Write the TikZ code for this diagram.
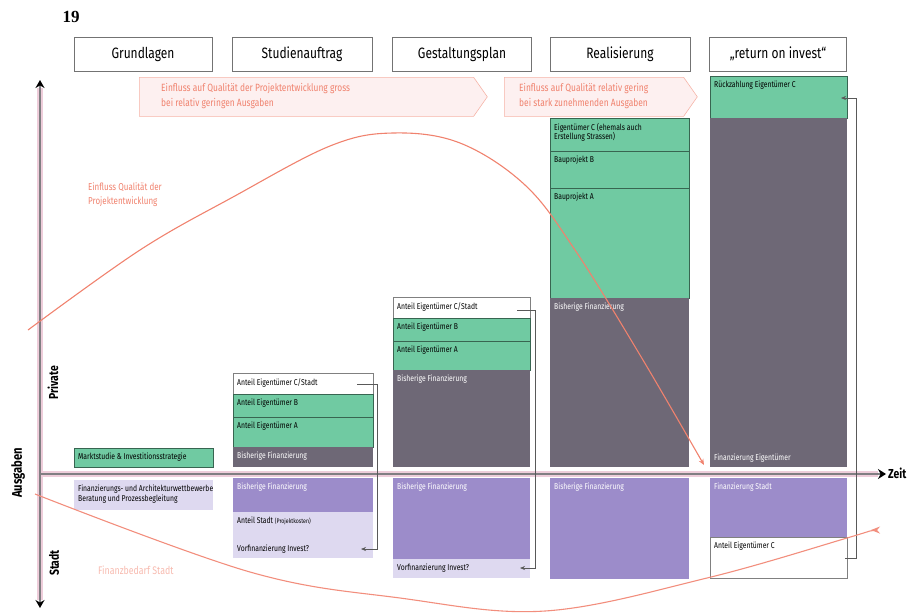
\documentclass[tikz,border=0pt]{standalone}
\usepackage{fontspec}
\newfontfamily\cond{Fira Sans}[FakeStretch=0.8]
\newfontfamily\numfont{Liberation Serif}
\usetikzlibrary{arrows.meta,shapes.symbols}

\definecolor{mint}{RGB}{112,202,162}
\definecolor{slate}{RGB}{110,104,118}
\definecolor{lilac}{RGB}{156,140,202}
\definecolor{palelilac}{RGB}{222,217,240}
\definecolor{salmon}{RGB}{240,130,110}
\definecolor{pinkfill}{RGB}{253,240,240}
\definecolor{axisgray}{RGB}{128,126,130}
\definecolor{axisedge}{RGB}{238,205,218}

% one segment of a column: name, style, x, y, width, height, label style, text
\newcommand\colseg[8]{%
  \node[#2, minimum width=#5, minimum height=#6] (#1) at (#3,#4) {};
  \node[#7] (#1-t) at ([shift={(4,5)}]#1.north west) {#8};}

\begin{document}
\begin{tikzpicture}[x=1pt, y=-1pt,
    head/.style={draw=black!55, fill=white, inner sep=0, minimum height=34,
      font=\cond\fontsize{15}{16}\selectfont},
    seg/.style={anchor=north west, inner sep=0, outer sep=0},
    greenseg/.style={seg, fill=mint, draw=mint!50!black, line width=0.4},
    darkseg/.style={seg, fill=slate},
    lilacseg/.style={seg, fill=lilac},
    paleseg/.style={seg, fill=palelilac},
    whiteseg/.style={seg, fill=white, draw=black!50, line width=0.4},
    lbl/.style={anchor=north west, inner sep=0, align=left,
      font=\cond\fontsize{8.5}{9.5}\selectfont},
    lblw/.style={lbl, text=white},
    banner/.style={signal, signal to=east, signal pointer angle=110,
      draw=salmon!60, fill=pinkfill, line width=0.6, inner sep=0,
      anchor=north west, minimum height=39},
    bantext/.style={anchor=north west, inner sep=0, align=left, text=salmon,
      font=\cond\fontsize{10.5}{15}\selectfont},
    axis/.style={draw=axisgray, line width=2.4},
    axisglow/.style={draw=axisedge, line width=5.5},
    curve/.style={draw=salmon, line width=1.1},
    rail/.style={draw=black!65, line width=0.6},
    axislbl/.style={inner sep=0, font=\cond\bfseries\fontsize{13}{13}\selectfont}]

  \useasboundingbox (0,0) rectangle (908,614);

  % page number
  \node[inner sep=0, font=\numfont\bfseries\fontsize{17}{17}\selectfont] (pageno) at (71,17) {19};

  % phase headers
  \node[head, minimum width=138] (h-grund) at (143,54) {Grundlagen};
  \node[head, minimum width=140] (h-studie) at (302,54) {Studienauftrag};
  \node[head, minimum width=139] (h-gestalt) at (462,54) {Gestaltungsplan};
  \node[head, minimum width=140] (h-real) at (620,54) {Realisierung};
  \node[head, minimum width=137] (h-roi) at (778,54) {„return on invest“};

  % influence banners
  \node[banner, minimum width=348] (ban-gross) at (139,77) {};
  \node[bantext] (ban-gross-t) at ([shift={(22,6)}]ban-gross.north west)
    {Einfluss auf Qualität der Projektentwicklung gross\\bei relativ geringen Ausgaben};
  \node[banner, minimum width=193] (ban-gering) at (504,77) {};
  \node[bantext] (ban-gering-t) at ([shift={(15,6)}]ban-gering.north west)
    {Einfluss auf Qualität relativ gering\\bei stark zunehmenden Ausgaben};

  % column Grundlagen
  \colseg{g-markt}{greenseg}{74}{448}{139}{19}{lbl}{Marktstudie \& Investitionsstrategie}
  \colseg{g-berat}{paleseg}{74}{480}{139}{30}{lbl}{Finanzierungs- und Architekturwettbewerbe\\Beratung und Prozessbegleitung}

  % column Studienauftrag
  \colseg{s-c}{whiteseg}{233}{373}{140}{21}{lbl}{Anteil Eigentümer C/Stadt}
  \colseg{s-b}{greenseg}{233}{394}{140}{23}{lbl}{Anteil Eigentümer B}
  \colseg{s-a}{greenseg}{233}{417}{140}{30}{lbl}{Anteil Eigentümer A}
  \colseg{s-bish}{darkseg}{233}{447}{140}{20}{lblw}{Bisherige Finanzierung}
  \colseg{s-bish2}{lilacseg}{233}{478}{140}{34}{lblw}{Bisherige Finanzierung}
  \colseg{s-stadt}{paleseg}{233}{512}{140}{46}{lbl}{Anteil Stadt {\fontsize{6.5}{7}\selectfont(Projektkosten)}}
  \node[lbl] (s-vor) at ([shift={(4,-13)}]s-stadt.south west) {Vorfinanzierung Invest?};

  % column Gestaltungsplan
  \colseg{p-c}{whiteseg}{393}{297}{137}{21}{lbl}{Anteil Eigentümer C/Stadt}
  \colseg{p-b}{greenseg}{393}{318}{137}{23}{lbl}{Anteil Eigentümer B}
  \colseg{p-a}{greenseg}{393}{341}{137}{29}{lbl}{Anteil Eigentümer A}
  \colseg{p-bish}{darkseg}{393}{370}{137}{97}{lblw}{Bisherige Finanzierung}
  \colseg{p-bish2}{lilacseg}{393}{478}{137}{81}{lblw}{Bisherige Finanzierung}
  \colseg{p-vor}{paleseg}{393}{559}{137}{19}{lbl}{Vorfinanzierung Invest?}

  % column Realisierung
  \colseg{r-c}{greenseg}{550}{118}{139}{33}{lbl}{Eigentümer C (ehemals auch\\Erstellung Strassen)}
  \colseg{r-b}{greenseg}{550}{151}{139}{37}{lbl}{Bauprojekt B}
  \colseg{r-a}{greenseg}{550}{188}{139}{110}{lbl}{Bauprojekt A}
  \colseg{r-bish}{darkseg}{550}{298}{139}{169}{lblw}{Bisherige Finanzierung}
  \colseg{r-bish2}{lilacseg}{550}{478}{139}{101}{lblw}{Bisherige Finanzierung}

  % column return on invest
  \colseg{i-rueck}{greenseg}{710}{76}{137}{42}{lbl}{Rückzahlung Eigentümer C}
  \colseg{i-fin}{darkseg}{710}{118}{137}{349}{lblw}{}
  \node[lblw, anchor=south west] (i-fin-b) at ([shift={(4,-4)}]i-fin.south west) {Finanzierung Eigentümer};
  \colseg{i-stadt}{lilacseg}{710}{478}{137}{59}{lblw}{Finanzierung Stadt}
  \colseg{i-anteil}{whiteseg}{710}{537}{137}{41}{lbl}{Anteil Eigentümer C}

  % axes
  \coordinate (o) at (40,474);
  \coordinate (ytop) at (40,80);
  \coordinate (ybot) at (40,608);
  \coordinate (xend) at (886,474);
  \draw[axisglow] (40,600) -- (40,88);
  \draw[axisglow] (o) -- (878,474);
  \draw[axis, {Stealth[length=8,width=9,black]}-{Stealth[length=8,width=9,black]}] (ybot) -- (ytop);
  \draw[axis, -{Stealth[length=8,width=10,black]}] (o) -- (xend);
  \node[axislbl, anchor=west] (zeit) at (888,473) {Zeit};
  \node[axislbl, rotate=90, font=\cond\bfseries\fontsize{14}{14}\selectfont] (ausgaben) at (18,473) {Ausgaben};
  \node[axislbl, rotate=90] (privat) at (53,383) {Private};
  \node[axislbl, rotate=90] (stadt) at (54,563) {Stadt};

  % transfer brackets
  \coordinate (s-c-end) at (357,384);
  \coordinate (s-vor-end) at (361,549);
  \coordinate (s-rail) at (377,0);
  \draw[rail, -{Stealth[length=5,width=4]}] (s-c-end) -- (s-c-end -| s-rail)
    -- (s-vor-end -| s-rail) -- (s-vor-end);
  \coordinate (p-c-end) at (517,310);
  \coordinate (p-vor-end) at (520,568);
  \coordinate (p-rail) at (535,0);
  \draw[rail, -{Stealth[length=5,width=4]}] (p-c-end) -- (p-c-end -| p-rail)
    -- (p-vor-end -| p-rail) -- (p-vor-end);
  \coordinate (i-anteil-end) at (845,558);
  \coordinate (i-rueck-end) at (841,98);
  \coordinate (i-rail) at (856,0);
  \draw[rail, -{Stealth[length=5,width=4]}] (i-anteil-end) -- (i-anteil-end -| i-rail)
    -- (i-rueck-end -| i-rail) -- (i-rueck-end);

  % influence curve
  \coordinate (q-end) at (704,465);
  \draw[curve, -{Stealth[length=6,width=5]}] plot[smooth, tension=0.6] coordinates
    {(28,330) (140,250) (233,197) (330,146) (393,133) (460,143) (525,185) (575,250) (640,355) (q-end)};
  \node[anchor=north west, inner sep=0, align=left, text=salmon,
    font=\cond\fontsize{10}{14}\selectfont] (q-lbl) at (88,182) {Einfluss Qualität der\\Projektentwicklung};

  % city expenses curve
  \coordinate (f-end) at (871,530);
  \draw[curve, draw=salmon!90, -{Stealth[length=9,width=7]}] plot[smooth, tension=0.6] coordinates
    {(35,494) (250,572) (400,598) (545,611) (707,578) (847,538) (f-end)};
  \node[anchor=west, inner sep=0, text=salmon!55,
    font=\cond\fontsize{11}{11}\selectfont] (f-lbl) at (98,570) {Finanzbedarf Stadt};

\end{tikzpicture}
\end{document}
